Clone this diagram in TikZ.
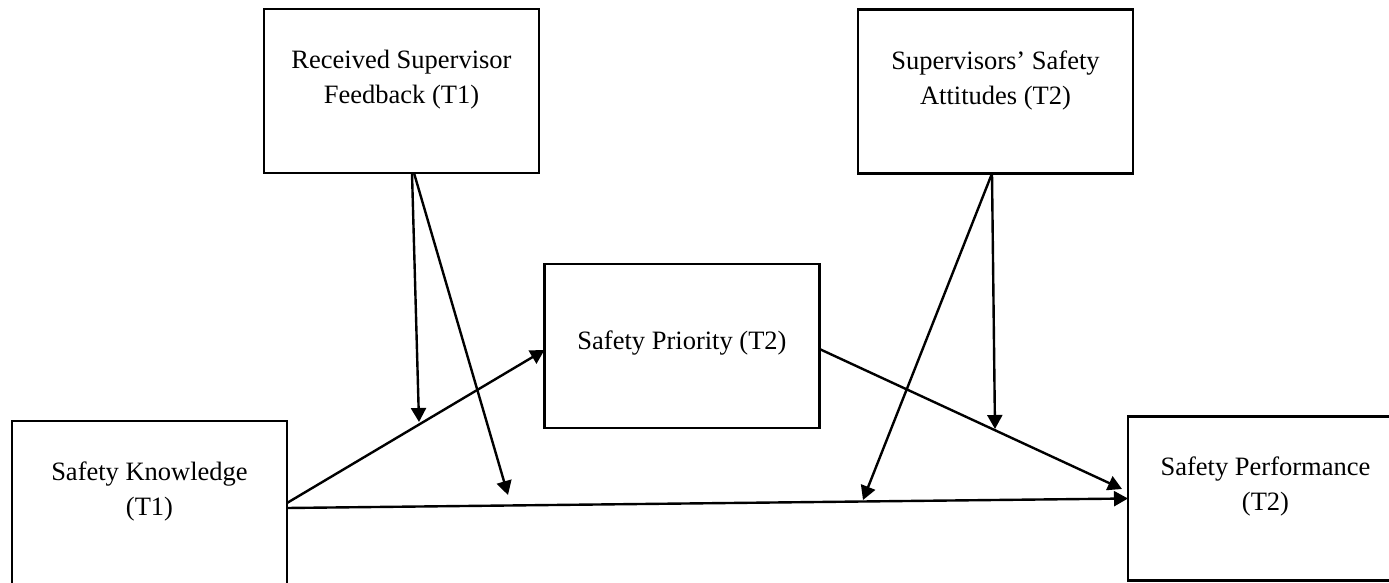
\documentclass[tikz,border=0pt]{standalone}
\usepackage{fontspec}
\setmainfont{Liberation Serif}
\usetikzlibrary{arrows.meta,positioning}
\tikzset{
  box/.style={draw,line width=1.35pt,minimum width=137.5pt,minimum height=82pt,inner sep=0pt,outer sep=0pt},
  lbl/.style={align=center,inner sep=0pt,font=\fontsize{13.25}{17.5}\selectfont},
  con/.style={->,line width=1.2pt}
}
\begin{document}
\begin{tikzpicture}[x=0.5pt,y=-0.5pt,>={Triangle[length=7pt,width=7.5pt]}]
    \clip(0,0)rectangle(1389,583);
    % boxes
    \node[box](rsf)at(401.5,91){};
    \node[box](ssa)at(995.5,91.5){};
    \node[box](sp)at(682,346){};
    \node[box](sk)at(149.5,503){};
    \node[box](perf)at(1265.5,498.5){};
    \node[lbl,below=20.5pt of rsf.north](rsft){Received Supervisor\\Feedback (T1)};
    \node[lbl,below=20.5pt of ssa.north](ssat){Supervisors’ Safety\\Attitudes (T2)};
    \node[lbl,below=33pt of sp.north](spt){Safety Priority (T2)};
    \node[lbl,below=20pt of sk.north](skt){Safety Knowledge\\(T1)};
    \node[lbl,below=20pt of perf.north](perft){Safety Performance\\(T2)};
    % main paths
    \draw[con](sk.east)--([yshift=-2pt]sp.west);
    \draw[con]([yshift=-2.5pt]sk.east)--(perf.west);
    \draw[con]([yshift=-1.5pt]sp.east)--([xshift=-3pt,yshift=4.75pt]perf.west);
    % moderators
    \coordinate(m1)at(419,422);
    \coordinate(m2)at(508,495);
    \coordinate(m3)at(995,429);
    \coordinate(m4)at(863,500);
    \draw[con]([xshift=5.25pt]rsf.south)--(m1);
    \draw[con]([xshift=6.25pt]rsf.south)--(m2);
    \draw[con]([xshift=-1.75pt]ssa.south)--(m3);
    \draw[con]([xshift=-1.75pt]ssa.south)--(m4);
\end{tikzpicture}
\end{document}
